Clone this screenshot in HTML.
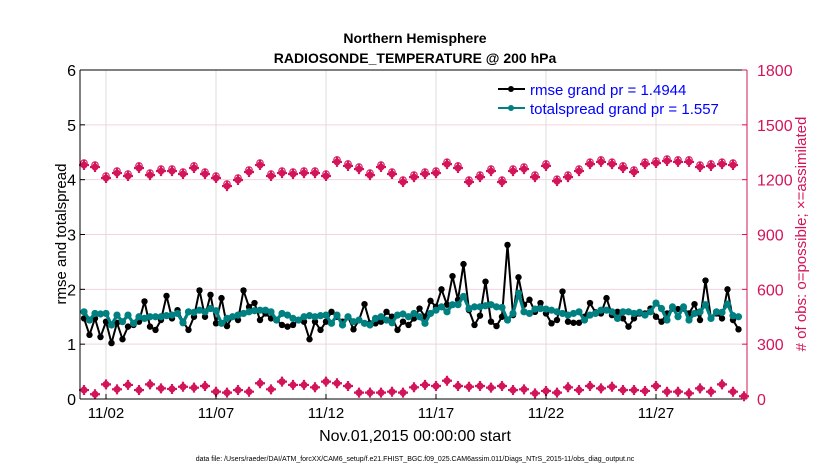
<!DOCTYPE html>
<html><head><meta charset="utf-8"><style>
body{margin:0;background:#fff;}
svg{display:block;font-family:"Liberation Sans",Arial,sans-serif;}
</style></head><body>
<svg id="chart" width="830" height="470" xmlns="http://www.w3.org/2000/svg">
<text x="415" y="43" text-anchor="middle" font-size="14" font-weight="bold">Northern Hemisphere</text>
<text x="415" y="63" text-anchor="middle" font-size="14" font-weight="bold">RADIOSONDE_TEMPERATURE @ 200 hPa</text>
<g id="grid"></g>
<g id="marks"></g>
<g id="axes"></g>
<text transform="translate(66,234) rotate(-90)" text-anchor="middle" font-size="15">rmse and totalspread</text>
<text transform="translate(806,234) rotate(-90)" text-anchor="middle" font-size="15" fill="#d4145a"># of obs: o=possible; ×=assimilated</text>
<text x="415" y="441" text-anchor="middle" font-size="16">Nov.01,2015 00:00:00 start</text>
<text x="415" y="461" text-anchor="middle" font-size="7">data file: /Users/raeder/DAI/ATM_forcXX/CAM6_setup/f.e21.FHIST_BGC.f09_025.CAM6assim.011/Diags_NTrS_2015-11/obs_diag_output.nc</text>
<g>
<line x1="498" y1="89" x2="525" y2="89" stroke="#000" stroke-width="2"/><circle cx="511" cy="89" r="3" fill="#000"/>
<text x="530" y="95" font-size="15" fill="#0000ff">rmse grand pr = 1.4944</text>
<line x1="498" y1="108" x2="525" y2="108" stroke="#008080" stroke-width="2"/><circle cx="511" cy="108" r="3" fill="#008080"/>
<text x="530" y="114" font-size="15" fill="#0000ff">totalspread grand pr = 1.557</text>
</g>
</svg>
<script>
const leftTicks=[0,1,2,3,4,5,6];
const rightTicks=[0,300,600,900,1200,1500,1800];
const dateTicks=[2,7,12,17,22,27];
const dateLabels=["11/02","11/07","11/12","11/17","11/22","11/27"];
const rmse=[1.47,1.17,1.47,1.13,1.41,1.02,1.39,1.09,1.32,1.35,1.41,1.78,1.32,1.26,1.44,1.88,1.47,1.62,1.41,1.26,1.50,1.98,1.50,1.90,1.38,1.84,1.33,1.50,1.44,1.98,1.68,1.75,1.44,1.56,1.47,1.44,1.35,1.32,1.35,1.44,1.41,1.09,1.41,1.26,1.41,1.59,1.50,1.41,1.50,1.27,1.44,1.73,1.38,1.38,1.41,1.59,1.50,1.26,1.41,1.35,1.47,
1.65,1.50,1.79,1.68,2.0,1.72,2.24,1.81,2.46,1.62,1.35,1.52,2.14,1.41,1.33,1.50,2.81,1.53,2.22,1.72,1.81,1.59,1.75,1.56,1.38,1.44,1.96,1.41,1.39,1.39,1.50,1.75,1.58,1.56,1.84,1.53,1.59,1.47,1.32,1.47,1.56,1.56,1.65,1.50,1.41,1.56,1.65,1.64,1.65,1.56,1.73,1.44,2.16,1.47,1.56,1.47,2.0,1.44,1.27];
const spread=[1.59,1.44,1.56,1.55,1.56,1.35,1.53,1.41,1.53,1.38,1.50,1.47,1.50,1.50,1.50,1.52,1.53,1.56,1.39,1.59,1.58,1.62,1.59,1.65,1.61,1.38,1.47,1.50,1.53,1.56,1.59,1.61,1.62,1.62,1.59,1.44,1.56,1.53,1.47,1.44,1.50,1.52,1.50,1.52,1.53,1.38,1.53,1.35,1.50,1.41,1.44,1.38,1.35,1.47,1.50,1.44,1.39,1.53,1.55,1.50,1.56,
1.50,1.38,1.56,1.62,1.68,1.59,1.72,1.72,1.87,1.65,1.68,1.68,1.70,1.72,1.68,1.67,1.44,1.56,1.93,1.59,1.56,1.64,1.65,1.64,1.62,1.59,1.56,1.53,1.56,1.59,1.44,1.53,1.56,1.62,1.62,1.59,1.47,1.59,1.59,1.56,1.58,1.53,1.59,1.75,1.65,1.44,1.68,1.50,1.68,1.44,1.56,1.59,1.72,1.47,1.59,1.58,1.73,1.52,1.50];
const obsPossible=[1280,1269,1209,1236,1220,1264,1225,1247,1247,1231,1264,1231,1209,1165,1198,1242,1280,1220,1236,1231,1236,1236,1220,1297,1275,1258,1225,1269,1231,1187,1214,
1231,1236,1285,1264,1187,1214,1247,1187,1247,1258,1214,1275,1192,1214,1247,1285,1297,1285,1264,1242,1285,1291,1302,1297,1297,1269,1275,1285,1280];
const obsAssim=[49,26,80,53,77,49,80,58,55,67,62,71,40,35,49,40,86,53,95,77,77,64,95,86,71,35,35,35,40,35,
64,77,71,100,71,67,71,62,71,49,53,31,44,35,64,49,71,58,67,49,49,44,71,40,40,31,58,40,80,40,15];
const NS="http://www.w3.org/2000/svg";
const L=80,R=747,T=70,B=399;
const xd=d=>84+(d-1)*22;
const yl=v=>B-(v/6)*(B-T);
const yr=v=>B-(v/1800)*(B-T);
function mk(tag,attrs,parent){const e=document.createElementNS(NS,tag);for(const k in attrs)e.setAttribute(k,attrs[k]);parent.appendChild(e);return e;}
const grid=document.getElementById('grid'),marks=document.getElementById('marks'),axes=document.getElementById('axes');
rightTicks.forEach(t=>{const l=mk('line',{x1:L,x2:R,y1:yr(t),y2:yr(t),stroke:'#f3d3df','stroke-width':1},grid);

});
dateTicks.forEach((d,i)=>{const l=mk('line',{x1:xd(d),x2:xd(d),y1:T,y2:B,stroke:'#dcdcdc','stroke-width':1},grid);


const t=mk('text',{x:xd(d),y:B+19,'text-anchor':'middle','font-size':15},axes);t.textContent=dateLabels[i];

});
function pinkMarker(x,y,circ){const g=mk('g',{},marks);


mk('circle',{cx:x,cy:y,r:3.5,fill:'#d4145a'},g);
mk('path',{d:`M${x-5} ${y}H${x+5}M${x} ${y-5}V${y+5}`,stroke:'#d4145a','stroke-width':2.2},g);
if(circ)mk('circle',{cx:x,cy:y-2,r:3.3,fill:'none',stroke:'#d4145a','stroke-width':1},g);}
obsPossible.forEach((v,i)=>pinkMarker(xd(1+i*0.5),yr(v),true));
obsAssim.forEach((v,i)=>pinkMarker(xd(1+i*0.5),yr(v),false));
function series(arr,col,lw,r,name){const pts=arr.map((v,i)=>[xd(1+i*0.25),yl(v)]);
const p=mk('polyline',{points:pts.map(p=>p.join(',')).join(' '),fill:'none',stroke:col,'stroke-width':lw,'stroke-linejoin':'round'},marks);


pts.forEach(q=>{const c=mk('circle',{cx:q[0],cy:q[1],r:r,fill:col},marks);

});}
series(rmse,'#000',2,3.2,'rmse');
series(spread,'#008080',3.2,3.6,'totalspread');
mk('line',{x1:L,x2:L,y1:T,y2:B,stroke:'#000','stroke-width':1},axes);
mk('line',{x1:L,x2:R,y1:B,y2:B,stroke:'#000','stroke-width':1},axes);
mk('line',{x1:L,x2:R,y1:T,y2:T,stroke:'#000','stroke-width':1},axes);
mk('line',{x1:R,x2:R,y1:T,y2:B,stroke:'#d4145a','stroke-width':1},axes);
leftTicks.forEach(t=>{mk('line',{x1:L,x2:L+5,y1:yl(t),y2:yl(t),stroke:'#000'},axes);
const tx=mk('text',{x:L-4,y:yl(t)+6,'text-anchor':'end','font-size':16},axes);tx.textContent=t;

});
rightTicks.forEach(t=>{mk('line',{x1:R-5,x2:R,y1:yr(t),y2:yr(t),stroke:'#d4145a'},axes);
const tx=mk('text',{x:R+10,y:yr(t)+6,'font-size':16,fill:'#d4145a'},axes);tx.textContent=t;

});
dateTicks.forEach(d=>mk('line',{x1:xd(d),x2:xd(d),y1:B-5,y2:B,stroke:'#000'},axes));
</script>
</body></html>
